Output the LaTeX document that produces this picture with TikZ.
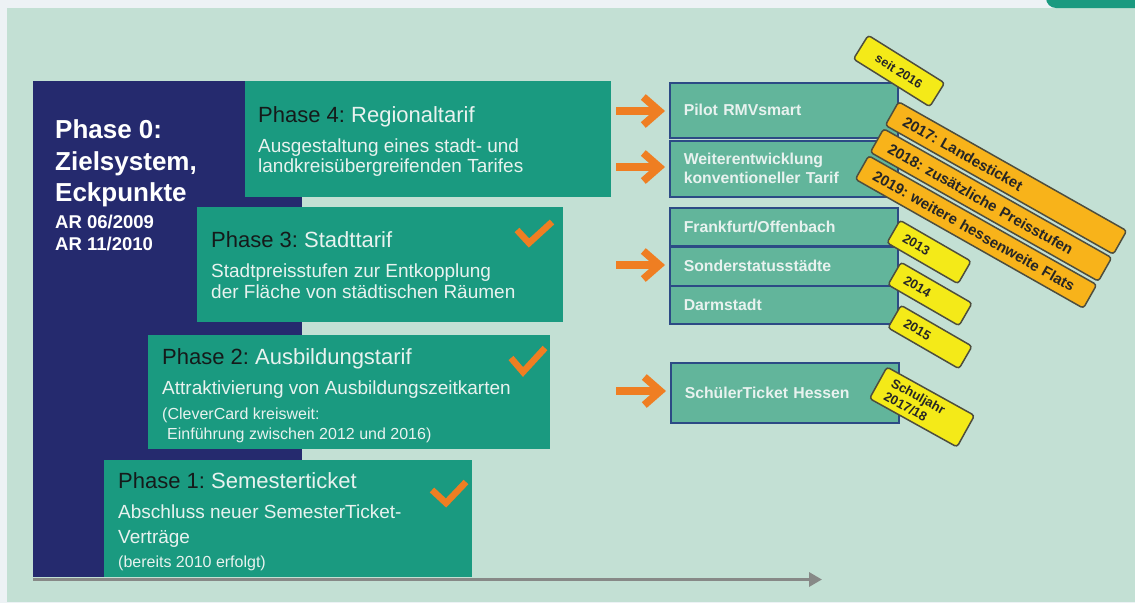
\documentclass[tikz,border=0pt]{standalone}
\usepackage{fontspec}
\setmainfont{Liberation Sans}
\usetikzlibrary{arrows.meta,calc}
\definecolor{bgmint}{HTML}{C3E0D4}
\definecolor{bgtop}{HTML}{EDF2F5}
\definecolor{navyc}{HTML}{252A6E}
\definecolor{phteal}{HTML}{1A9A80}
\definecolor{lteal}{HTML}{62B59B}
\definecolor{bordblue}{HTML}{2C4A85}
\definecolor{orng}{HTML}{EF7E22}
\definecolor{tagyel}{HTML}{F4EA18}
\definecolor{tagorg}{HTML}{F8B31A}
\definecolor{tagbord}{HTML}{4E4E3E}
\definecolor{axisgrey}{HTML}{878987}
\definecolor{wtext}{HTML}{E8F2EF}
\definecolor{dtext}{HTML}{151A1A}
\newcommand\fHead{\fontsize{22}{26}\selectfont}
\newcommand\fDesc{\fontsize{19}{22}\selectfont}
\newcommand\fSmall{\fontsize{16}{18}\selectfont}
\newcommand\fBig{\fontsize{26}{30}\selectfont\bfseries}
\newcommand\fAR{\fontsize{18.5}{21}\selectfont\bfseries}
\newcommand\fBox{\fontsize{15.8}{19}\selectfont\bfseries}
\newcommand\fTag{\fontsize{15}{17}\selectfont\bfseries}
\newcommand\fTagM{\fontsize{13}{15}\selectfont\bfseries}
\newcommand\fTagS{\fontsize{12.5}{14}\selectfont\bfseries}
\frenchspacing
\begin{document}
\begin{tikzpicture}[x=1pt,y=-1pt,
  phasebox/.style={fill=phteal, inner sep=0pt, anchor=north west},
  navybox/.style={fill=navyc, inner sep=0pt, anchor=north west},
  tbox/.style={fill=lteal, draw=bordblue, line width=1.5pt, anchor=north west, inner xsep=14pt, inner ysep=2pt, text width=200pt, align=left, text=wtext, font=\fBox},
  ln/.style={anchor=base west, inner sep=0pt, text=wtext},
  hd/.style={ln, font=\fHead},
  ds/.style={ln, font=\fDesc},
  sm/.style={ln, font=\fSmall},
  big/.style={ln, font=\fBig, text=white},
  arl/.style={ln, font=\fAR, text=white},
  chk/.style={draw=orng, line width=6.5pt, line join=miter},
  oarrow/.style={draw=orng, line width=7.5pt, shorten >=4pt, -{Straight Barb[length=16pt,width=28pt]}},
  axisline/.style={draw=axisgrey, line width=3.5pt, -{Triangle[length=13pt,width=14pt]}},
  tagy/.style={fill=tagyel, draw=tagbord, line width=1.5pt, rounded corners=3pt, text=black!85, inner ysep=0pt},
  tago/.style={fill=tagorg, draw=tagbord, line width=1.5pt, rounded corners=3pt, font=\fTag, text=black!85, inner ysep=0pt, inner xsep=14pt, text width=234pt, align=left, minimum height=27pt, rotate=-29.5},
]
\useasboundingbox (0,0) rectangle (1135,603);
\begin{scope}
\clip (0,0) rectangle (1135,603);
\fill[bgtop] (0,0) rectangle (1135,603);
\fill[bgmint] (7,8) rectangle (1135,602);
\fill[phteal, rounded corners=10pt] (1046,-20) rectangle (1150,8);
\end{scope}
% phase boxes
\node[navybox, minimum width=269pt, minimum height=496pt] (p0) at (33,81) {};
\node[phasebox, minimum width=366pt, minimum height=116pt] (p4) at (245,81) {};
\node[phasebox, minimum width=366pt, minimum height=115pt] (p3) at (197,207) {};
\node[phasebox, minimum width=402pt, minimum height=114pt] (p2) at (148,335) {};
\node[phasebox, minimum width=368pt, minimum height=117pt] (p1) at (104,460) {};
% axis
\coordinate (ax0) at (33,579.5);
\coordinate (ax1) at (822,579.5);
\draw[axisline] (ax0) -- (ax1);
% phase 0 text
\node[big] (t0a) at (55,138) {Phase 0:};
\node[big] (t0b) at (55,170) {Zielsystem,};
\node[big] (t0c) at (55,201) {Eckpunkte};
\node[arl] (t0d) at (55,228) {AR 06/2009};
\node[arl] (t0e) at (55,250) {AR 11/2010};
% phase 4
\node[hd] (h4) at (258,122) {\textcolor{dtext}{Phase 4:} Regionaltarif};
\node[ds] (d4a) at (258,152) {Ausgestaltung eines stadt- und};
\node[ds] (d4b) at (258,172) {landkreisübergreifenden Tarifes};
% phase 3
\node[hd] (h3) at (211,247) {\textcolor{dtext}{Phase 3:} Stadttarif};
\node[ds] (d3a) at (211,277) {Stadtpreisstufen zur Entkopplung};
\node[ds] (d3b) at (211,298) {der Fläche von städtischen Räumen};
% phase 2
\node[hd] (h2) at (162,364) {\textcolor{dtext}{Phase 2:} Ausbildungstarif};
\node[ds] (d2a) at (162,394) {Attraktivierung von Ausbildungszeitkarten};
\node[sm] (d2b) at (162,419) {(CleverCard kreisweit:};
\node[sm] (d2c) at (167,439) {Einführung zwischen 2012 und 2016)};
% phase 1
\node[hd] (h1) at (118,488) {\textcolor{dtext}{Phase 1:} Semesterticket};
\node[ds] (d1a) at (118,518) {Abschluss neuer SemesterTicket-};
\node[ds] (d1b) at (118,543) {Verträge};
\node[sm] (d1c) at (118,567) {(bereits 2010 erfolgt)};
% checks
\draw[chk] (517,230) -- (529,243) -- (552,222);
\draw[chk] (511,358) -- (523,372) -- (545,348);
\draw[chk] (432,490) -- (446,503) -- (466,482);
% right boxes
\node[tbox, minimum height=55pt] (pilot) at (669,82) {Pilot RMVsmart};
\node[tbox, minimum height=56pt] (weiter) at (669,140) {Weiterentwicklung\\konventioneller Tarif};
\node[tbox, minimum height=38pt] (ffm) at (669,207) {Frankfurt/Offenbach};
\node[tbox, minimum height=39pt] (sonder) at (669,246) {Sonderstatusstädte};
\node[tbox, minimum height=38pt] (darm) at (669,285) {Darmstadt};
\node[tbox, minimum height=60pt] (schueler) at (670,362) {SchülerTicket Hessen};
% arrows
\coordinate (s1) at (616,111);
\coordinate (s2) at (616,167);
\coordinate (s3) at (616,265);
\coordinate (s4) at (616,391);
\draw[oarrow] (s1) -- (s1 -| pilot.west);
\draw[oarrow] (s2) -- (s2 -| weiter.west);
\draw[oarrow] (s3) -- (s3 -| sonder.west);
\draw[oarrow] (s4) -- (s4 -| schueler.west);
% tags
\node[tagy, rotate=-32, minimum width=90pt, minimum height=28pt, align=center, font=\fTagS] (t16) at (899,71) {seit 2016};
\node[tago] (t17) at (1006,178) {2017: Landesticket};
\node[tago] (t18) at (991,205) {2018: zusätzliche Preisstufen};
\node[tago] (t19) at (976,232) {2019: weitere hessenweite Flats};
\node[tagy, rotate=-30, text width=58pt, inner xsep=12pt, align=left, minimum height=26pt, font=\fTagM] (t13) at (929,252) {2013};
\node[tagy, rotate=-30, text width=58pt, inner xsep=12pt, align=left, minimum height=26pt, font=\fTagM] (t14) at (930,294) {2014};
\node[tagy, rotate=-30, text width=58pt, inner xsep=12pt, align=left, minimum height=26pt, font=\fTagM] (t15) at (930,337) {2015};
\node[tagy, rotate=-29, text width=76pt, inner xsep=12pt, align=left, minimum height=36pt, font=\fTagM] (tsj) at (922,407) {Schuljahr\\2017/18};
\end{tikzpicture}
\end{document}
